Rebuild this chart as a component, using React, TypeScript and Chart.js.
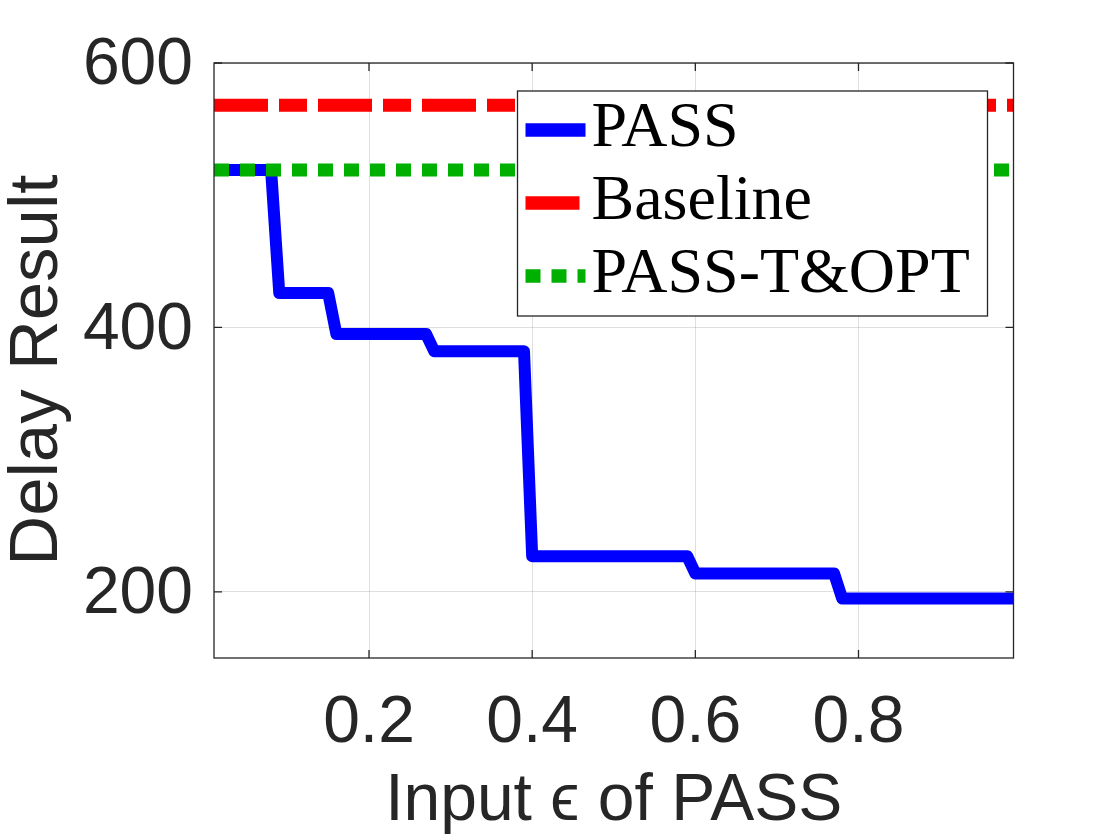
import React, { useEffect, useRef } from "react";
import { Chart, registerables } from "chart.js";

Chart.register(...registerables);

// ---------- data ----------
const epsilonX = [0.01, 0.08, 0.09, 0.15, 0.16, 0.27, 0.28, 0.39, 0.4, 0.59, 0.6, 0.77, 0.78, 0.99];
const passDelay = [519, 519, 426, 426, 395, 395, 382, 382, 227, 227, 214, 214, 195, 195];
const refX = [0.01, 0.99];
const baselineDelay = [568, 568];
const passTOptDelay = [519, 519];
const seriesNames = ["PASS", "Baseline", "PASS-T&OPT"];
const xTickValues = [0.2, 0.4, 0.6, 0.8];
const yTickValues = [200, 400, 600];
const xRange = [0.01, 0.99];
const yRange = [150, 600];
const xTitle = "Input \u03F5 of PASS";
const yTitle = "Delay Result ";

// ---------- styles ----------
const AXIS_COLOR = "#262626";
const GRID_COLOR = "rgba(38,38,38,0.15)";
const SANS = '"Liberation Sans", Arial, Helvetica, sans-serif';
const SERIF = '"Liberation Serif", "Times New Roman", serif';

const frameLegendPlugin = {
  id: "frameLegend",
  afterDatasetsDraw(chart: any) {
    const { ctx, chartArea: a, scales } = chart;
    ctx.save();
    // axes box
    ctx.strokeStyle = AXIS_COLOR;
    ctx.lineWidth = 1.3;
    ctx.setLineDash([]);
    ctx.strokeRect(a.left, a.top, a.right - a.left, a.bottom - a.top);
    // inward ticks
    const tl = 8;
    ctx.beginPath();
    scales.x.ticks.forEach((t: any) => {
      const px = scales.x.getPixelForValue(t.value);
      ctx.moveTo(px, a.bottom);
      ctx.lineTo(px, a.bottom - tl);
      ctx.moveTo(px, a.top);
      ctx.lineTo(px, a.top + tl);
    });
    scales.y.ticks.forEach((t: any) => {
      const py = scales.y.getPixelForValue(t.value);
      ctx.moveTo(a.left, py);
      ctx.lineTo(a.left + tl, py);
      ctx.moveTo(a.right, py);
      ctx.lineTo(a.right - tl, py);
    });
    ctx.stroke();

    // legend
    const w = 470;
    const h = 225;
    const lx = a.right - 26 - w;
    const ly = a.top + 28;
    ctx.fillStyle = "#ffffff";
    ctx.fillRect(lx, ly, w, h);
    ctx.strokeStyle = AXIS_COLOR;
    ctx.lineWidth = 1.3;
    ctx.strokeRect(lx, ly, w, h);
    chart.data.datasets.forEach((ds: any, i: number) => {
      const cy = ly + 39 + i * 73;
      ctx.beginPath();
      ctx.strokeStyle = ds.borderColor;
      ctx.lineWidth = 13.5;
      ctx.lineCap = "butt";
      ctx.setLineDash(ds.borderDash || []);
      ctx.moveTo(lx + 8, cy);
      ctx.lineTo(lx + 68, cy);
      ctx.stroke();
      ctx.setLineDash([]);
      ctx.fillStyle = "#000000";
      ctx.font = `64px ${SERIF}`;
      ctx.textBaseline = "alphabetic";
      ctx.textAlign = "left";
      ctx.fillText(ds.label, lx + 74, cy + 16);
    });
    ctx.restore();
  },
};

export default function App() {
  const canvasRef = useRef<HTMLCanvasElement | null>(null);

  useEffect(() => {
    if (!canvasRef.current) return;
    const chart = new Chart(canvasRef.current, {
      type: "line",
      data: {
        datasets: [
          {
            label: seriesNames[0],
            data: epsilonX.map((x, i) => ({ x, y: passDelay[i] })),
            borderColor: "#0000ff",
            borderWidth: 12,
            borderJoinStyle: "round",
            pointRadius: 0,
            fill: false,
            tension: 0,
            clip: 0,
            order: 3,
          },
          {
            label: seriesNames[1],
            data: refX.map((x, i) => ({ x, y: baselineDelay[i] })),
            borderColor: "#ff0000",
            borderWidth: 13,
            borderDash: [54, 11, 28, 11],
            pointRadius: 0,
            fill: false,
            clip: 0,
            order: 2,
          },
          {
            label: seriesNames[2],
            data: refX.map((x, i) => ({ x, y: passTOptDelay[i] })),
            borderColor: "#00b000",
            borderWidth: 13,
            borderDash: [15, 11],
            pointRadius: 0,
            fill: false,
            clip: 0,
            order: 1,
          },
        ],
      },
      options: {
        animation: false,
        responsive: false,
        devicePixelRatio: 1,
        layout: { padding: { left: 0, top: 63, right: 106.5, bottom: 0 } },
        plugins: {
          legend: { display: false },
          tooltip: { enabled: false },
        },
        scales: {
          x: {
            type: "linear",
            min: xRange[0],
            max: xRange[1],
            afterBuildTicks: (s: any) => {
              s.ticks = xTickValues.map((v) => ({ value: v }));
            },
            afterFit: (s: any) => {
              s.height = 182;
            },
            grid: { color: GRID_COLOR, lineWidth: 1, drawTicks: false },
            border: { display: false },
            ticks: {
              color: AXIS_COLOR,
              font: { family: SANS, size: 66 },
              padding: 26,
              maxRotation: 0,
              callback: (v: any) => String(Number(v).toFixed(1)),
            },
            title: {
              display: true,
              text: xTitle,
              color: AXIS_COLOR,
              font: { family: SANS, size: 66, lineHeight: 1.15 },
              padding: 0,
            },
          },
          y: {
            type: "linear",
            min: yRange[0],
            max: yRange[1],
            afterBuildTicks: (s: any) => {
              s.ticks = yTickValues.map((v) => ({ value: v }));
            },
            afterFit: (s: any) => {
              s.width = 214;
            },
            grid: { color: GRID_COLOR, lineWidth: 1, drawTicks: false },
            border: { display: false },
            ticks: {
              color: AXIS_COLOR,
              font: { family: SANS, size: 66 },
              padding: 21,
              labelOffset: 3,
              callback: (v: any) => String(v),
            },
            title: {
              display: true,
              text: yTitle,
              color: AXIS_COLOR,
              font: { family: SANS, size: 69, lineHeight: 1.1 },
              padding: 0,
            },
          },
        },
      },
      plugins: [frameLegendPlugin],
    } as any);
    return () => chart.destroy();
  }, []);

  return (
    <div style={{ position: "fixed", left: 0, top: 0, width: 1120, height: 840, background: "#fff" }}>
      <canvas ref={canvasRef} width={1120} height={840} style={{ display: "block" }} />
    </div>
  );
}
